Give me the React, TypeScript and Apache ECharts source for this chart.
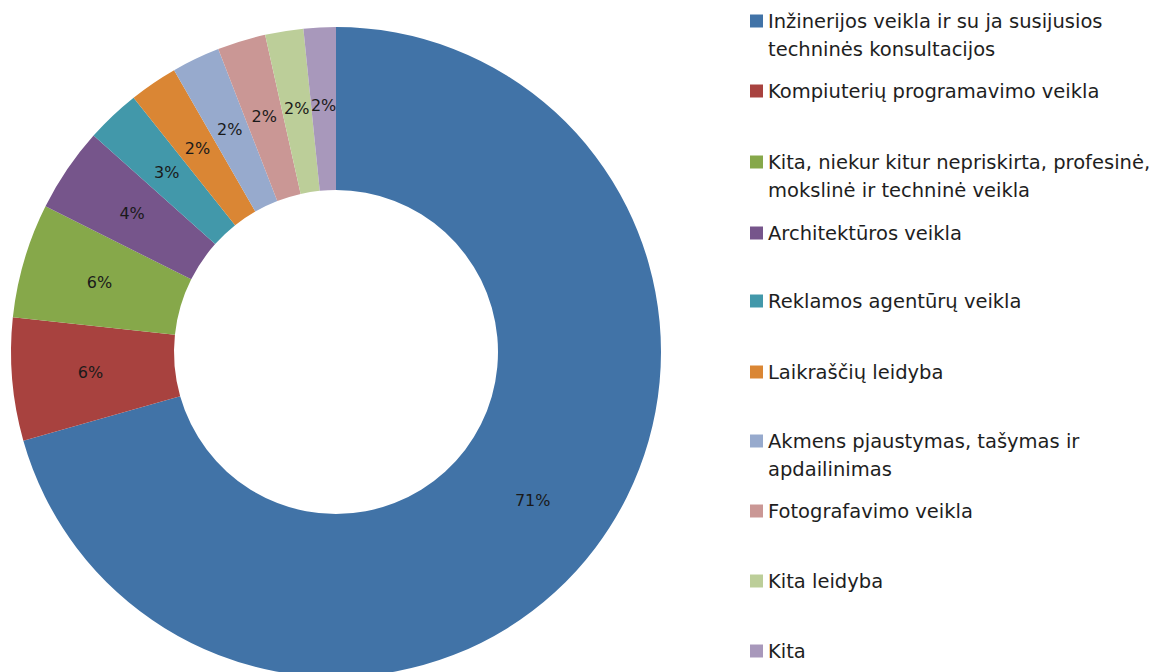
import React, { useEffect, useRef } from "react";
import * as echarts from "echarts";

const categories: string[] = [
  "Inžinerijos veikla ir su ja susijusios\ntechninės konsultacijos",
  "Kompiuterių programavimo veikla",
  "Kita, niekur kitur nepriskirta, profesinė,\nmokslinė ir techninė veikla",
  "Architektūros veikla",
  "Reklamos agentūrų veikla",
  "Laikraščių leidyba",
  "Akmens pjaustymas, tašymas ir\napdailinimas",
  "Fotografavimo veikla",
  "Kita leidyba",
  "Kita",
];

const values: number[] = [70.6, 6.1, 5.7, 4.2, 2.7, 2.4, 2.4, 2.4, 1.9, 1.6];

const colors: string[] = [
  "#4173A7",
  "#A8423F",
  "#86A84A",
  "#76558B",
  "#4298AA",
  "#DA8634",
  "#97AACD",
  "#CA9795",
  "#BCCE99",
  "#A898BB",
];

const legendCenters: number[] = [21, 91, 162, 233, 301, 372, 441, 511, 581, 651];

export default function App() {
  const ref = useRef<HTMLDivElement>(null);

  useEffect(() => {
    document.body.style.margin = "0";
    const chart = echarts.init(ref.current!, undefined, { renderer: "svg" });
    const LH = 28;
    const legends = categories.map((name, i) => {
      const multi = name.includes("\n");
      return {
        orient: "vertical",
        left: 750,
        top: legendCenters[i] - (multi ? LH * 1.5 : LH / 2),
        padding: 0,
        itemWidth: 13,
        itemHeight: 13,
        itemGap: 0,
        icon: "rect",
        selectedMode: false,
        data: [name],
        formatter: (n: string) => (n.includes("\n") ? " \n" + n : n),
        textStyle: {
          fontFamily: "DejaVu Sans",
          fontSize: 19.5,
          color: "#1e1e1e",
          lineHeight: LH,
          padding: [0, 0, 0, 0],
        },
      };
    });
    chart.setOption({
      animation: false,
      color: colors,
      legend: legends,
      series: [
        {
          type: "pie",
          center: [336, 352],
          radius: [162, 325],
          startAngle: 90,
          clockwise: true,
          avoidLabelOverlap: false,
          label: {
            show: true,
            position: "inside",
            fontFamily: "DejaVu Sans",
            fontSize: 16,
            color: "#1a1a1a",
            formatter: (p: any) => Math.round(p.percent) + "%",
          },
          labelLine: { show: false },
          emphasis: { disabled: true },
          data: categories.map((name, i) => ({ name, value: values[i] })),
        },
      ],
    } as any);
    return () => chart.dispose();
  }, []);

  return (
    <div
      ref={ref}
      style={{ position: "absolute", left: 0, top: 0, width: 1158, height: 672, background: "#fff" }}
    />
  );
}
